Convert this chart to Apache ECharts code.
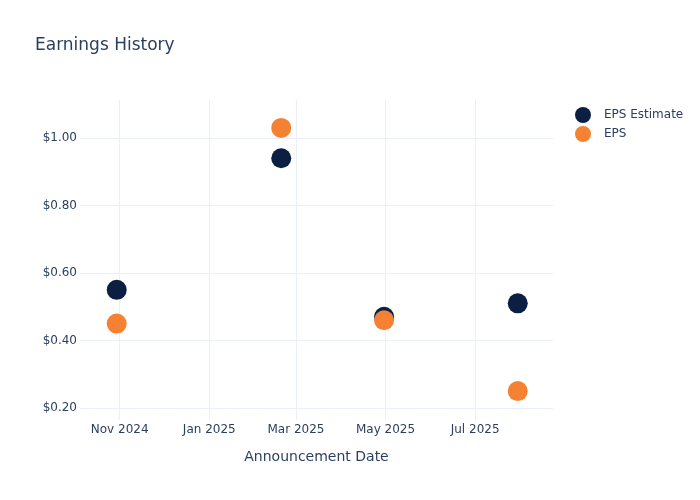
<!DOCTYPE html>
<html><head><meta charset="utf-8">
<script src="https://cdn.jsdelivr.net/npm/echarts@6/dist/echarts.min.js"></script>
<style>html,body{margin:0;padding:0;background:#fff}#c{width:700px;height:500px}</style>
</head><body><div id="c"></div>
<script>
const dates = ['2024-10-30', '2025-02-19', '2025-04-30', '2025-07-30'];
const epsEstimate = [0.55, 0.94, 0.47, 0.51];
const eps = [0.45, 1.03, 0.46, 0.25];
const xTicks = ['2024-11-01', '2025-01-01', '2025-03-01', '2025-05-01', '2025-07-01'];
const yTicks = [0.2, 0.4, 0.6, 0.8, 1.0];
const xRange = ['2024-10-05', '2025-08-23'];
const yRange = [0.1644, 1.1126];

const MONTHS = ['Jan','Feb','Mar','Apr','May','Jun','Jul','Aug','Sep','Oct','Nov','Dec'];
const textColor = '#2a3f5f';
const gridColor = '#ebf0f8';
const font = 'DejaVu Sans, sans-serif';
const ts = s => { const [y,m,d] = s.split('-').map(Number); return Date.UTC(y, m-1, d); };

const chart = echarts.init(document.getElementById('c'), null, {renderer: 'canvas'});
chart.setOption({
  animation: false,
  backgroundColor: '#fff',
  title: {
    text: 'Earnings History', left: 30, top: 32,
    textStyle: {color: textColor, fontSize: 17, fontWeight: 'normal', fontFamily: font}
  },
  legend: {
    orient: 'vertical', left: 570, top: 102, itemGap: 3,
    icon: 'circle', itemWidth: 16, itemHeight: 16,
    textStyle: {color: textColor, fontSize: 12, fontFamily: font, padding: [0, 0, 0, 8]},
    data: ['EPS Estimate', 'EPS']
  },
  grid: {left: 80, right: 147, top: 100, bottom: 80, containLabel: false},
  xAxis: {
    type: 'value',
    min: ts(xRange[0]), max: ts(xRange[1]),
    name: 'Announcement Date', nameLocation: 'middle', nameGap: 30,
    nameTextStyle: {color: textColor, fontSize: 14, fontFamily: font},
    axisLine: {show: false},
    axisTick: {show: false, customValues: xTicks.map(ts)},
    axisLabel: {
      customValues: xTicks.map(ts), color: textColor, fontSize: 12, fontFamily: font, margin: 4,
      formatter: v => { const d = new Date(v); return MONTHS[d.getUTCMonth()] + ' ' + d.getUTCFullYear(); }
    },
    splitLine: {show: true, lineStyle: {color: gridColor, width: 1}}
  },
  yAxis: {
    type: 'value',
    min: yRange[0], max: yRange[1],
    axisLine: {show: false},
    axisTick: {show: false, customValues: yTicks},
    axisLabel: {
      customValues: yTicks, color: textColor, fontSize: 12, fontFamily: font, margin: 3,
      formatter: v => '$' + v.toFixed(2)
    },
    splitLine: {show: true, lineStyle: {color: gridColor, width: 1}}
  },
  series: [
    {
      name: 'EPS Estimate', type: 'scatter', symbolSize: 20,
      itemStyle: {color: '#0b1f42', opacity: 1},
      data: dates.map((d, i) => [ts(d), epsEstimate[i]])
    },
    {
      name: 'EPS', type: 'scatter', symbolSize: 20,
      itemStyle: {color: '#f58233', opacity: 1},
      data: dates.map((d, i) => [ts(d), eps[i]])
    }
  ]
});
</script></body></html>
